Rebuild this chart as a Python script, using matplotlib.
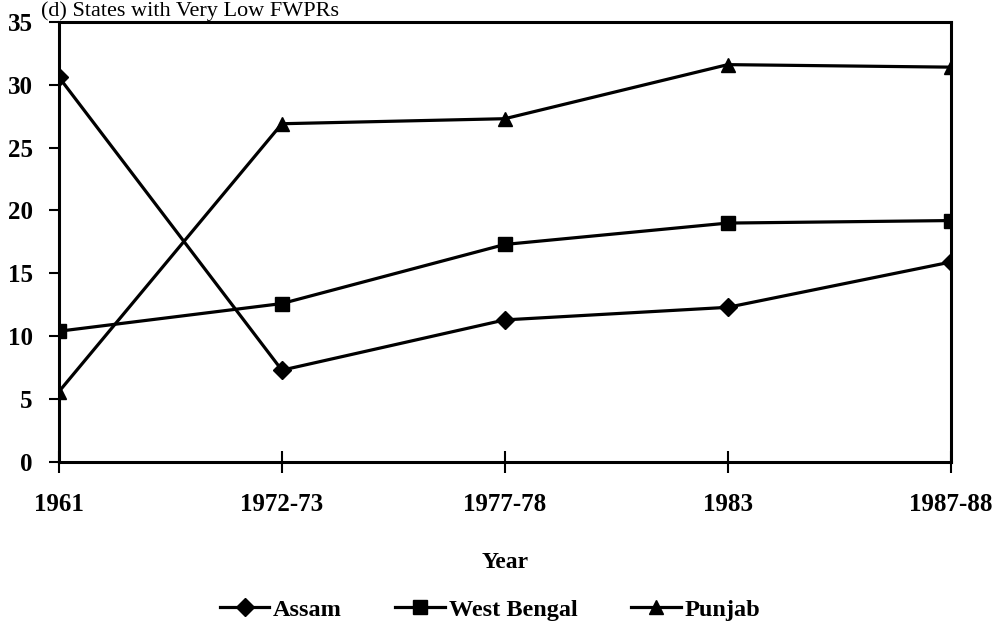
import matplotlib
matplotlib.use("Agg")
import matplotlib.pyplot as plt

years = ["1961", "1972-73", "1977-78", "1983", "1987-88"]
assam = [30.6, 7.3, 11.3, 12.3, 15.9]
west_bengal = [10.4, 12.6, 17.3, 19.0, 19.2]
punjab = [5.6, 26.9, 27.3, 31.6, 31.4]

plt.rcParams['font.family'] = ['Liberation Serif', 'DejaVu Serif']

fig = plt.figure(figsize=(10.03, 6.36), dpi=100)
ax = fig.add_axes([0.0588, 0.2736, 0.889, 0.692])

x = list(range(len(years)))
ax.plot(x, assam, color='black', lw=2.3, marker='D', ms=9, label='Assam')
ax.plot(x, west_bengal, color='black', lw=2.3, marker='s', ms=10, label='West Bengal')
ax.plot(x, punjab, color='black', lw=2.3, marker='^', ms=10, label='Punjab')

ax.set_xlim(0, len(years) - 1)
ax.set_ylim(0, 35)
ax.set_yticks(range(0, 36, 5))
ax.set_xticks(x)
ax.set_xticklabels(years, fontsize=18, fontweight='bold')
for t in ax.get_yticklabels():
    t.set_fontsize(18)
    t.set_fontweight('bold')
ax.tick_params(axis='x', direction='inout', length=16, width=1.5, pad=14)
ax.tick_params(axis='y', direction='out', length=7, width=1.5, pad=12)
for s in ax.spines.values():
    s.set_linewidth(2.2)

ax.set_xlabel('Year', fontsize=17, fontweight='bold')
ax.xaxis.set_label_coords(0.5, -0.205)
fig.text(0.041, 0.975, '(d) States with Very Low FWPRs', fontsize=16, va='baseline')

fig.legend(loc='center', bbox_to_anchor=(0.4885, 0.041), ncol=3, frameon=False,
           prop={'size': 17.5, 'weight': 'bold'}, handlelength=2.05, handletextpad=0.15,
           columnspacing=2.2)

fig.savefig('out.png', dpi=100)
